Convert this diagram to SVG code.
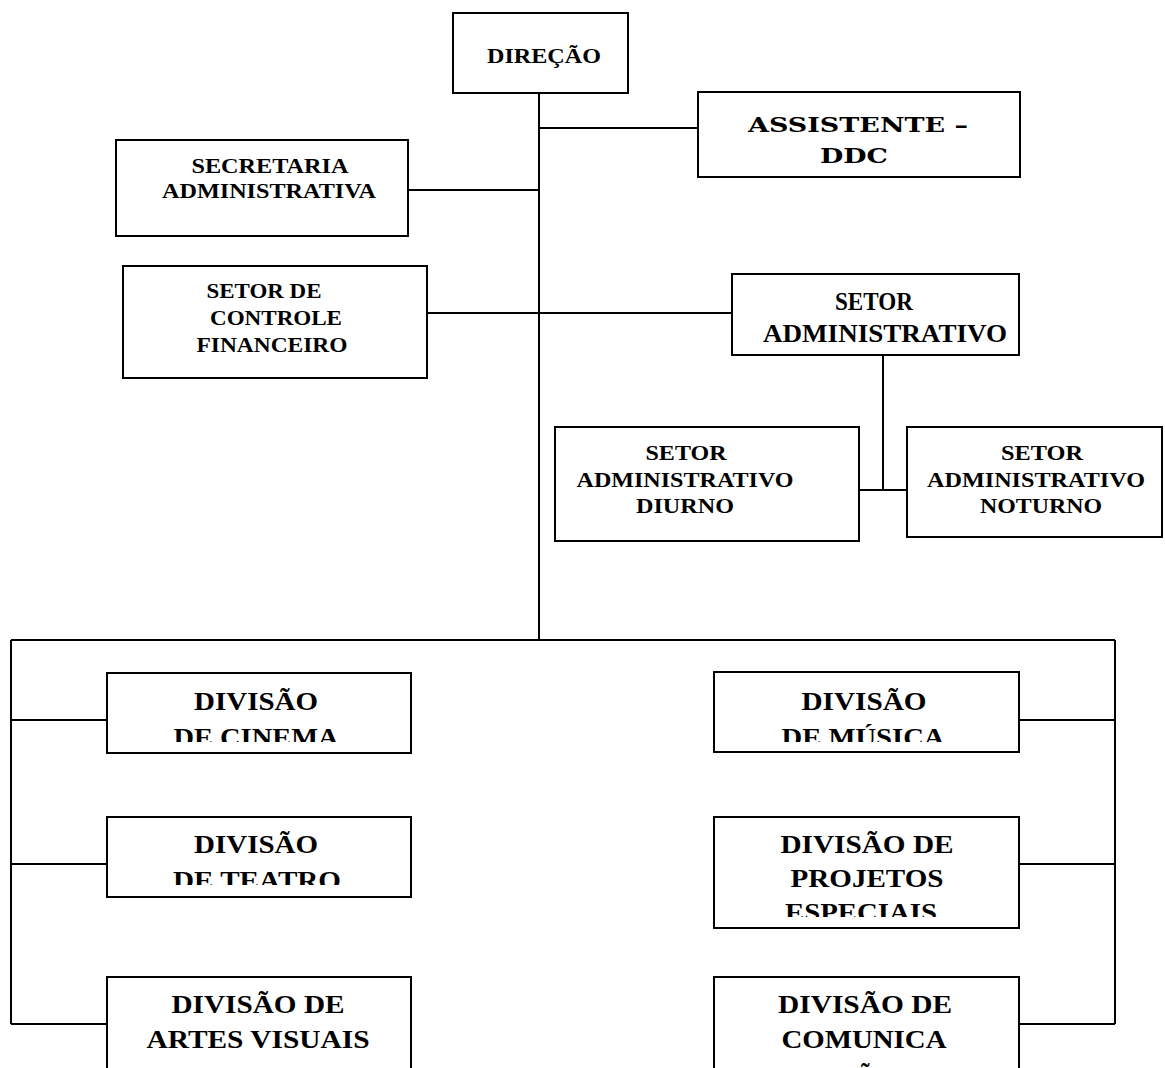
<svg xmlns="http://www.w3.org/2000/svg" width="1165" height="1068" viewBox="0 0 1165 1068">
<style>
.box{fill:#fff;stroke:#000;stroke-width:2}
.t{font-family:"Liberation Serif","Tinos","Nimbus Roman","DejaVu Serif",serif;font-weight:bold;fill:#000;text-anchor:middle}
.s23{font-size:21px}
.s24{font-size:22px}
.s27{font-size:25px}
.s29{font-size:26px}
.a{font-family:"DejaVu Serif",serif;font-weight:bold;font-size:21px;fill:#000;text-anchor:middle}
.ln{stroke:#000;stroke-width:2;fill:none}
</style>
<defs>
<clipPath id="cAss"><rect x="698" y="92" width="322" height="74"/></clipPath>
<clipPath id="cCin"><rect x="107" y="673" width="304" height="69"/></clipPath>
<clipPath id="cTea"><rect x="107" y="817" width="304" height="68"/></clipPath>
<clipPath id="cMus"><rect x="714" y="672" width="305" height="70"/></clipPath>
<clipPath id="cPro"><rect x="714" y="817" width="305" height="100"/></clipPath>
</defs>
<g id="connectors">
<path class="ln" d="M539 93V640M539 128H698M408 190H539M427 313H732M883 355V490M859 490H907M11 640H1115M11 640V1024M1115 640V1024M11 720H107M11 864H107M11 1024H107M1019 720H1115M1019 864H1115M1019 1024H1115"/>
</g>
<g id="direcao">
<rect class="box" x="453" y="13" width="175" height="80"/>
<text class="t s24" x="544" y="63" textLength="114" lengthAdjust="spacingAndGlyphs">DIREÇÃO</text>
</g>
<g id="assistente">
<rect class="box" x="698" y="92" width="322" height="85"/>
<g clip-path="url(#cAss)">
<text class="a" x="858" y="132" textLength="220" lengthAdjust="spacingAndGlyphs">ASSISTENTE –</text>
<text class="a" x="854" y="163" textLength="68" lengthAdjust="spacingAndGlyphs">DDC</text>
</g>
</g>
<g id="secretaria">
<rect class="box" x="116" y="140" width="292" height="96"/>
<text class="t s23" x="270" y="173" textLength="157" lengthAdjust="spacingAndGlyphs">SECRETARIA</text>
<text class="t s23" x="269" y="198" textLength="214" lengthAdjust="spacingAndGlyphs">ADMINISTRATIVA</text>
</g>
<g id="controle">
<rect class="box" x="123" y="266" width="304" height="112"/>
<text class="t s23" x="264" y="298" textLength="115" lengthAdjust="spacingAndGlyphs">SETOR DE</text>
<text class="t s23" x="276" y="325" textLength="132" lengthAdjust="spacingAndGlyphs">CONTROLE</text>
<text class="t s23" x="272" y="352" textLength="151" lengthAdjust="spacingAndGlyphs">FINANCEIRO</text>
</g>
<g id="setor-adm">
<rect class="box" x="732" y="274" width="287" height="81"/>
<text class="t s27" x="874" y="310" textLength="78" lengthAdjust="spacingAndGlyphs">SETOR</text>
<text class="t s27" x="885" y="342" textLength="244" lengthAdjust="spacingAndGlyphs">ADMINISTRATIVO</text>
</g>
<g id="diurno">
<rect class="box" x="555" y="427" width="304" height="114"/>
<text class="t s24" x="686" y="460" textLength="81" lengthAdjust="spacingAndGlyphs">SETOR</text>
<text class="t s24" x="685" y="487" textLength="217" lengthAdjust="spacingAndGlyphs">ADMINISTRATIVO</text>
<text class="t s24" x="685" y="513" textLength="98" lengthAdjust="spacingAndGlyphs">DIURNO</text>
</g>
<g id="noturno">
<rect class="box" x="907" y="427" width="255" height="110"/>
<text class="t s24" x="1042" y="460" textLength="82" lengthAdjust="spacingAndGlyphs">SETOR</text>
<text class="t s24" x="1036" y="487" textLength="218" lengthAdjust="spacingAndGlyphs">ADMINISTRATIVO</text>
<text class="t s24" x="1041" y="513" textLength="122" lengthAdjust="spacingAndGlyphs">NOTURNO</text>
</g>
<g id="cinema">
<rect class="box" x="107" y="673" width="304" height="80"/>
<g clip-path="url(#cCin)">
<text class="t s29" x="256" y="710" textLength="124" lengthAdjust="spacingAndGlyphs">DIVISÃO</text>
<text class="t s29" x="256" y="746" textLength="165" lengthAdjust="spacingAndGlyphs">DE CINEMA</text>
</g>
</g>
<g id="teatro">
<rect class="box" x="107" y="817" width="304" height="80"/>
<g clip-path="url(#cTea)">
<text class="t s29" x="256" y="853" textLength="124" lengthAdjust="spacingAndGlyphs">DIVISÃO</text>
<text class="t s29" x="257" y="889" textLength="168" lengthAdjust="spacingAndGlyphs">DE TEATRO</text>
</g>
</g>
<g id="artes">
<rect class="box" x="107" y="977" width="304" height="100"/>
<text class="t s29" x="258" y="1013" textLength="173" lengthAdjust="spacingAndGlyphs">DIVISÃO DE</text>
<text class="t s29" x="258" y="1048" textLength="223" lengthAdjust="spacingAndGlyphs">ARTES VISUAIS</text>
</g>
<g id="musica">
<rect class="box" x="714" y="672" width="305" height="80"/>
<g clip-path="url(#cMus)">
<text class="t s29" x="864" y="710" textLength="125" lengthAdjust="spacingAndGlyphs">DIVISÃO</text>
<text class="t s29" x="863" y="746" textLength="163" lengthAdjust="spacingAndGlyphs">DE MÚSICA</text>
</g>
</g>
<g id="projetos">
<rect class="box" x="714" y="817" width="305" height="111"/>
<g clip-path="url(#cPro)">
<text class="t s29" x="867" y="853" textLength="173" lengthAdjust="spacingAndGlyphs">DIVISÃO DE</text>
<text class="t s29" x="867" y="887" textLength="153" lengthAdjust="spacingAndGlyphs">PROJETOS</text>
<text class="t s29" x="861" y="921" textLength="152" lengthAdjust="spacingAndGlyphs">ESPECIAIS</text>
</g>
</g>
<g id="comunicacao">
<rect class="box" x="714" y="977" width="305" height="100"/>
<text class="t s29" x="865" y="1013" textLength="174" lengthAdjust="spacingAndGlyphs">DIVISÃO DE</text>
<text class="t s29" x="864" y="1048" textLength="165" lengthAdjust="spacingAndGlyphs">COMUNICA</text>
<text class="t s29" x="866" y="1085">ÇÃO</text>
</g>
</svg>
